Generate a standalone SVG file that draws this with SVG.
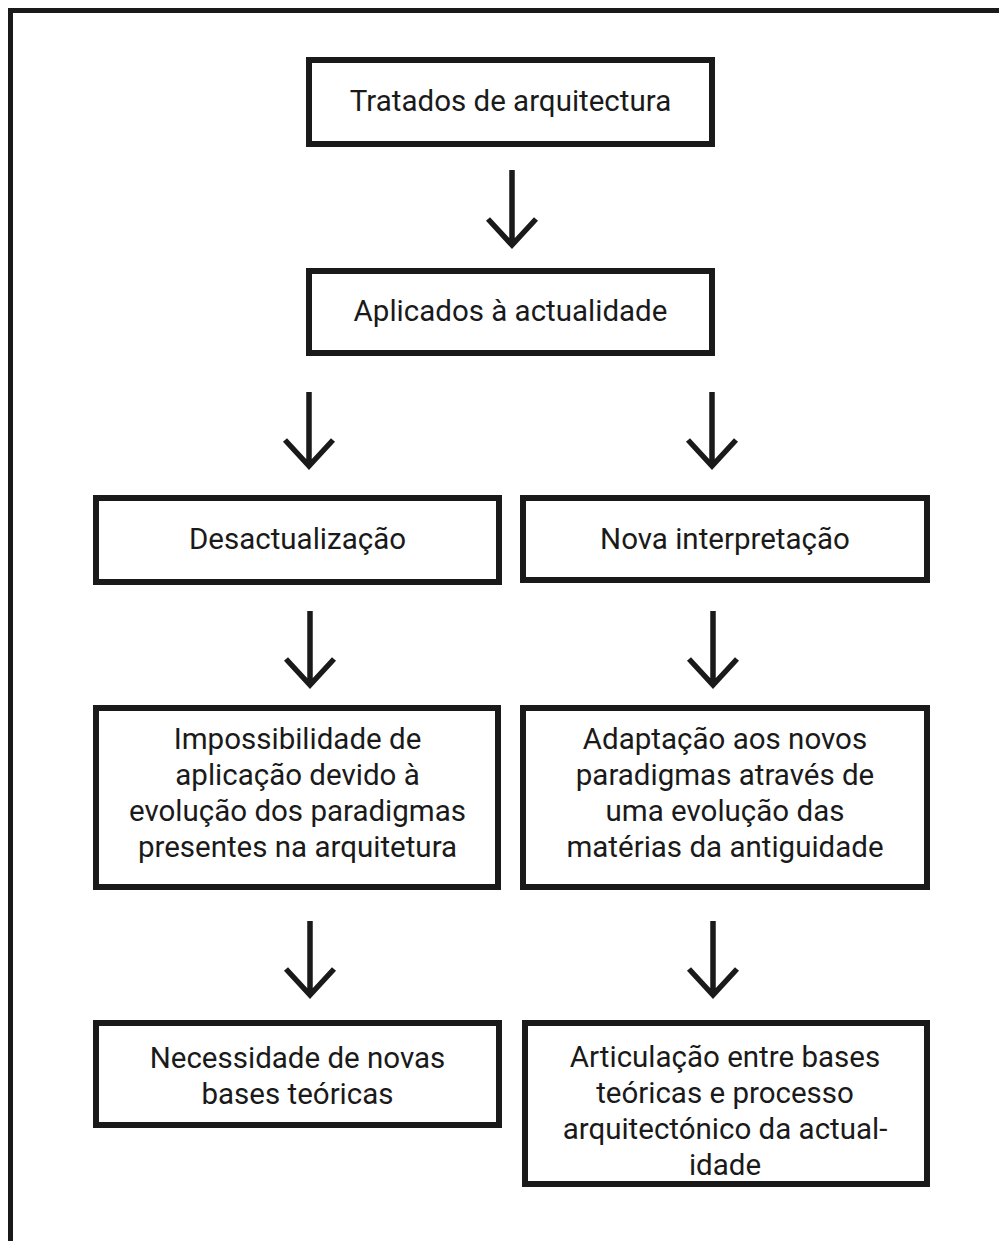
<svg xmlns="http://www.w3.org/2000/svg" width="999" height="1241" viewBox="0 0 999 1241">
<style>
.box{fill:#fff;stroke:#1a1a1a;stroke-width:6}
.frame{fill:none;stroke:#1a1a1a;stroke-width:5}
.arr{fill:none;stroke:#1a1a1a;stroke-width:5.5;stroke-linecap:butt;stroke-linejoin:miter}
text{font-family:Roboto,"Liberation Sans",sans-serif;font-size:29.5px;fill:#1a1a1a;text-anchor:middle}
</style>
<rect x="0" y="0" width="999" height="1241" fill="#fff"/>
<path class="frame" d="M10.5 1241 V10.5 H999"/>
<g id="connectors">
<path class="arr" d="M512 170 V245 M488 219 L512 245 L536 219"/>
<path class="arr" d="M309 392 V466 M285 440 L309 466 L333 440"/>
<path class="arr" d="M712 392 V466 M688 440 L712 466 L736 440"/>
<path class="arr" d="M310 611 V685 M286 659 L310 685 L334 659"/>
<path class="arr" d="M713 611 V685 M689 659 L713 685 L737 659"/>
<path class="arr" d="M310 921 V995 M286 969 L310 995 L334 969"/>
<path class="arr" d="M713 921 V995 M689 969 L713 995 L737 969"/>
</g>
<g id="n1"><rect class="box" x="309" y="60" width="403" height="84"/><text x="510.5" y="111">Tratados de arquitectura</text></g>
<g id="n2"><rect class="box" x="309" y="271" width="403" height="82"/><text x="510.5" y="321">Aplicados à actualidade</text></g>
<g id="n3"><rect class="box" x="96" y="498" width="403" height="84"/><text x="297.5" y="549">Desactualização</text></g>
<g id="n4"><rect class="box" x="523" y="498" width="404" height="82"/><text x="725" y="549">Nova interpretação</text></g>
<g id="n5"><rect class="box" x="96" y="708" width="402" height="179"/>
<text x="297.5" y="749">Impossibilidade de</text>
<text x="297.5" y="785">aplicação devido à</text>
<text x="297.5" y="821">evolução dos paradigmas</text>
<text x="297.5" y="857">presentes na arquitetura</text></g>
<g id="n6"><rect class="box" x="523" y="708" width="404" height="179"/>
<text x="725" y="749">Adaptação aos novos</text>
<text x="725" y="785">paradigmas através de</text>
<text x="725" y="821">uma evolução das</text>
<text x="725" y="857">matérias da antiguidade</text></g>
<g id="n7"><rect class="box" x="96" y="1023" width="403" height="102"/>
<text x="297.5" y="1068">Necessidade de novas</text>
<text x="297.5" y="1104">bases teóricas</text></g>
<g id="n8"><rect class="box" x="525" y="1023" width="402" height="161"/>
<text x="725" y="1067">Articulação entre bases</text>
<text x="725" y="1103">teóricas e processo</text>
<text x="725" y="1139">arquitectónico da actual-</text>
<text x="725" y="1175">idade</text></g>
</svg>
